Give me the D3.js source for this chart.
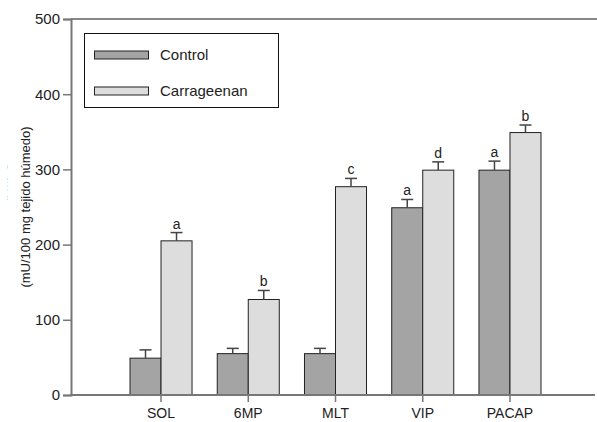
<!DOCTYPE html>
<html>
<head>
<meta charset="utf-8">
<script src="https://cdn.jsdelivr.net/npm/d3@7"></script>
<style>
  body { margin: 0; background: #fff; }
  svg { display: block; font-family: "Liberation Sans", Arial, Helvetica, sans-serif; }
</style>
</head>
<body>
<script>
const categories = ["SOL", "6MP", "MLT", "VIP", "PACAP"];
const series = ["Control", "Carrageenan"];
const controlValues = [49, 55, 55, 249, 299];
const controlErrors = [11, 7, 7, 11, 12];
const carrValues = [205, 127, 277, 299, 349];
const carrErrors = [11, 12, 11, 11, 10];
const controlLetters = ["", "", "", "a", "a"];
const carrLetters = ["a", "b", "c", "d", "b"];
const yTicks = [0, 100, 200, 300, 400, 500];

const width = 597, height = 422;
const colors = { Control: "#a4a4a4", Carrageenan: "#dddddd" };

const rows = [];
categories.forEach((c, i) => {
    rows.push({ cat: c, s: "Control", v: controlValues[i], e: controlErrors[i], l: controlLetters[i] });
    rows.push({ cat: c, s: "Carrageenan", v: carrValues[i], e: carrErrors[i], l: carrLetters[i] });
});

const svg = d3.select("body").append("svg")
    .attr("width", width)
    .attr("height", height);

const y = d3.scaleLinear().domain([0, 500]).range([395, 19]);
const x = d3.scaleBand().domain(categories)
    .range([117.4, 553.6])
    .paddingInner(0.289)
    .paddingOuter(0.1445);
const xs = d3.scaleBand().domain(series).range([0, x.bandwidth()]);

// first line of the y title, cut by the page edge as in the scan
svg.append("clipPath").attr("id", "lc")
    .append("rect").attr("x", 5).attr("y", 0).attr("width", 40).attr("height", height);

svg.append("text")
    .attr("clip-path", "url(#lc)")
    .attr("transform", "translate(7,205) rotate(-90)")
    .attr("text-anchor", "middle")
    .attr("font-size", 13)
    .attr("fill", "#222")
    .text("Actividad MPO");

svg.append("text")
    .attr("transform", "translate(30,207) rotate(-90)")
    .attr("text-anchor", "middle")
    .attr("font-size", 13)
    .attr("fill", "#222")
    .text("(mU/100 mg tejido húmedo)");

// top frame line
svg.append("line")
    .attr("x1", 71).attr("x2", width).attr("y1", y(500)).attr("y2", y(500))
    .attr("stroke", "#111").attr("stroke-width", 1.2);

// bars
const g = svg.append("g");
g.selectAll("rect.bar")
    .data(rows)
    .join("rect")
    .attr("class", "bar")
    .attr("x", d => x(d.cat) + xs(d.s))
    .attr("y", d => y(d.v))
    .attr("width", xs.bandwidth())
    .attr("height", d => y(0) - y(d.v))
    .attr("fill", d => colors[d.s])
    .attr("stroke", "#222")
    .attr("stroke-width", 1);

// error bars
const cx = d => x(d.cat) + xs(d.s) + xs.bandwidth() / 2;
g.selectAll("line.err")
    .data(rows)
    .join("line")
    .attr("class", "err")
    .attr("x1", cx).attr("x2", cx)
    .attr("y1", d => y(d.v)).attr("y2", d => y(d.v + d.e))
    .attr("stroke", "#444").attr("stroke-width", 1.5);
g.selectAll("line.cap")
    .data(rows)
    .join("line")
    .attr("class", "cap")
    .attr("x1", d => cx(d) - 6).attr("x2", d => cx(d) + 6)
    .attr("y1", d => y(d.v + d.e)).attr("y2", d => y(d.v + d.e))
    .attr("stroke", "#444").attr("stroke-width", 1.5);

// letters
g.selectAll("text.let")
    .data(rows.filter(d => d.l))
    .join("text")
    .attr("class", "let")
    .attr("x", cx)
    .attr("y", d => y(d.v + d.e) - 4)
    .attr("text-anchor", "middle")
    .attr("font-size", 14)
    .attr("fill", "#222")
    .text(d => d.l);

// y axis
const yAxis = svg.append("g")
    .attr("transform", "translate(71,0)")
    .call(d3.axisLeft(y).tickValues(yTicks).tickSize(8).tickPadding(3));
yAxis.select(".domain").attr("stroke", "#777").attr("stroke-width", 2);
yAxis.selectAll(".tick line").attr("stroke", "#777").attr("stroke-width", 1.5);
yAxis.selectAll(".tick text")
    .attr("font-size", 15)
    .attr("font-family", "Liberation Sans, Arial, sans-serif")
    .attr("fill", "#222");

// x axis
const xAxis = svg.append("g")
    .attr("transform", `translate(0,${y(0)})`)
    .call(d3.axisBottom(x).tickSize(7).tickSizeOuter(0).tickPadding(6));
xAxis.select(".domain").attr("d", `M70,0H${width - 2}`).attr("stroke", "#777").attr("stroke-width", 2);
xAxis.selectAll(".tick line").attr("stroke", "#777").attr("stroke-width", 1.5);
xAxis.selectAll(".tick text")
    .attr("font-size", 14)
    .attr("font-family", "Liberation Sans, Arial, sans-serif")
    .attr("fill", "#222");

// legend
const legend = svg.append("g");
legend.append("rect")
    .attr("x", 84.5).attr("y", 33.5).attr("width", 194).attr("height", 74)
    .attr("fill", "#fff").attr("stroke", "#111").attr("stroke-width", 1);
series.forEach((s, i) => {
    const ly = 51 + i * 36;
    legend.append("rect")
        .attr("x", 94.5).attr("y", ly).attr("width", 54).attr("height", 8)
        .attr("fill", colors[s]).attr("stroke", "#222").attr("stroke-width", 1);
    legend.append("text")
        .attr("x", 160).attr("y", ly + 4).attr("dy", "0.35em")
        .attr("font-size", 15).attr("fill", "#222")
        .text(s);
});
</script>
</body>
</html>
